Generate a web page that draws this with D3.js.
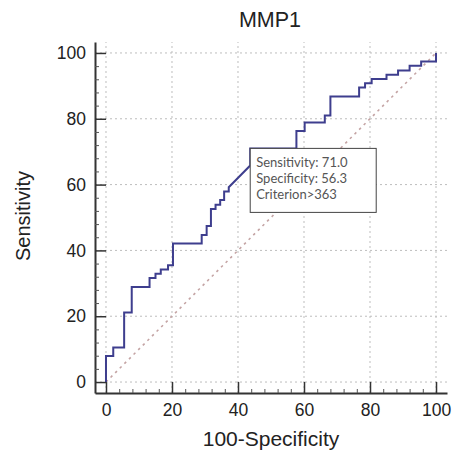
<!DOCTYPE html>
<html>
<head>
<meta charset="utf-8">
<script src="https://cdn.jsdelivr.net/npm/d3@7"></script>
<style>
  html, body { margin: 0; padding: 0; background: #fff; }
  svg { display: block; font-family: "Liberation Sans", Arial, sans-serif; }
</style>
</head>
<body>
<svg id="chart" width="456" height="461"></svg>
<script>
// ROC curve vertices for MMP1: 100-Specificity (%) and Sensitivity (%)
const fpr  = [0, 0, 2.2, 2.2, 5.5, 5.5, 7.8, 7.8, 13.2, 13.2, 15.0, 15.0, 16.6, 16.6, 18.8, 18.8, 20.3, 20.3,
              29.0, 29.0, 30.5, 30.5, 31.8, 31.8, 33.2, 33.2, 34.6, 34.6, 35.8, 35.8, 37.2, 37.2, 43.7, 43.7,
              57.7, 57.7, 60.2, 60.2, 66.3, 66.3, 68.0, 68.0, 76.7, 76.7, 78.5, 78.5, 80.5, 80.5, 85.0, 85.0,
              88.5, 88.5, 92.0, 92.0, 95.5, 95.5, 100, 100];
const sens = [0, 7.9, 7.9, 10.5, 10.5, 21.1, 21.1, 28.9, 28.9, 31.6, 31.6, 32.9, 32.9, 34.2, 34.2, 35.5, 35.5, 42.1,
              42.1, 44.7, 44.7, 47.4, 47.4, 52.6, 52.6, 53.9, 53.9, 55.3, 55.3, 57.9, 57.9, 59.2, 65.8, 71.0,
              71.0, 76.3, 76.3, 78.9, 78.9, 81.0, 81.0, 86.8, 86.8, 89.5, 89.5, 90.8, 90.8, 92.1, 92.1, 93.4,
              93.4, 94.7, 94.7, 96.1, 96.1, 97.4, 97.4, 100];

// Chance diagonal
const refX = [0, 100];
const refY = [0, 100];

// Optimal criterion
const critLines = ["Sensitivity: 71.0", "Specificity: 56.3", "Criterion>363"];
const critX = 100 - 56.3;
const critY = 71.0;

const majorTicks = [0, 20, 40, 60, 80, 100];
const minorTicks = d3.range(0, 101, 4).filter(v => v % 20 !== 0);

const svg = d3.select("#chart");

const x = d3.scaleLinear().domain([-3.33, 103.33]).range([95, 447]);
const y = d3.scaleLinear().domain([-3.33, 103.33]).range([393, 42]);

// Dotted grid
const grid = svg.append("g").attr("stroke", "#bdbdbd").attr("stroke-width", 1)
  .attr("stroke-dasharray", "2,3");
grid.selectAll("line.v").data(majorTicks).join("line").attr("class", "v")
  .attr("x1", d => x(d)).attr("x2", d => x(d))
  .attr("y1", y.range()[0]).attr("y2", y.range()[1]);
grid.selectAll("line.h").data(majorTicks).join("line").attr("class", "h")
  .attr("y1", d => y(d)).attr("y2", d => y(d))
  .attr("x1", x.range()[0]).attr("x2", x.range()[1]);

// Chance line
svg.append("line")
  .attr("x1", x(refX[0])).attr("y1", y(refY[0]))
  .attr("x2", x(refX[1])).attr("y2", y(refY[1]))
  .attr("stroke", "#c4a4a4").attr("stroke-width", 1.6)
  .attr("stroke-dasharray", "2.5,4");

// ROC curve
const pts = fpr.map((v, i) => [v, sens[i]]);
svg.append("path")
  .datum(pts)
  .attr("fill", "none")
  .attr("stroke", "#3e3e8e")
  .attr("stroke-width", 2)
  .attr("stroke-linejoin", "miter")
  .attr("d", d3.line().x(d => x(d[0])).y(d => y(d[1])));

// Axes: inward ticks, major every 20 and minor every 4
function styleAxis(g) {
  g.select(".domain").attr("stroke", "#333").attr("stroke-width", 2);
  g.selectAll(".tick line").attr("stroke", "#333").attr("stroke-width", 1.5);
  g.selectAll(".tick text").attr("fill", "#222")
    .style("font-family", "'Liberation Sans', Arial, sans-serif").style("font-size", "17.5px");
}

const xAxis = svg.append("g").attr("transform", `translate(0,${y.range()[0]})`)
  .call(d3.axisBottom(x).tickValues(majorTicks).tickSize(-11).tickSizeOuter(0).tickPadding(11));
styleAxis(xAxis);
const xMinor = svg.append("g").attr("transform", `translate(0,${y.range()[0]})`)
  .call(d3.axisBottom(x).tickValues(minorTicks).tickSize(-4).tickFormat(""));
xMinor.select(".domain").remove();
xMinor.selectAll(".tick line").attr("stroke", "#555").attr("stroke-width", 1);

const yAxis = svg.append("g").attr("transform", `translate(${x.range()[0]},0)`)
  .call(d3.axisLeft(y).tickValues(majorTicks).tickSize(-11).tickSizeOuter(0).tickPadding(9));
styleAxis(yAxis);
const yMinor = svg.append("g").attr("transform", `translate(${x.range()[0]},0)`)
  .call(d3.axisLeft(y).tickValues(minorTicks).tickSize(-4).tickFormat(""));
yMinor.select(".domain").remove();
yMinor.selectAll(".tick line").attr("stroke", "#555").attr("stroke-width", 1);

// Criterion box
const bx = x(critX), by = y(critY);
const box = svg.append("g").attr("transform", `translate(${bx},${by})`);
box.append("rect").attr("width", 126).attr("height", 64)
  .attr("fill", "#fff").attr("stroke", "#444").attr("stroke-width", 1);
box.selectAll("text").data(critLines).join("text")
  .attr("x", 6).attr("y", (d, i) => 19 + i * 16)
  .attr("fill", "#555")
  .style("font-family", "Lato, 'Open Sans', sans-serif").style("font-size", "13px")
  .text(d => d);

// Titles
svg.append("text").attr("x", 270).attr("y", 27).attr("text-anchor", "middle")
  .attr("fill", "#222").style("font-size", "21.5px").text("MMP1");
svg.append("text").attr("x", 271).attr("y", 446).attr("text-anchor", "middle")
  .attr("fill", "#222").style("font-size", "21px").text("100-Specificity");
svg.append("text").attr("transform", "translate(30,216) rotate(-90)").attr("text-anchor", "middle")
  .attr("fill", "#222").style("font-size", "20px").text("Sensitivity");
</script>
</body>
</html>
